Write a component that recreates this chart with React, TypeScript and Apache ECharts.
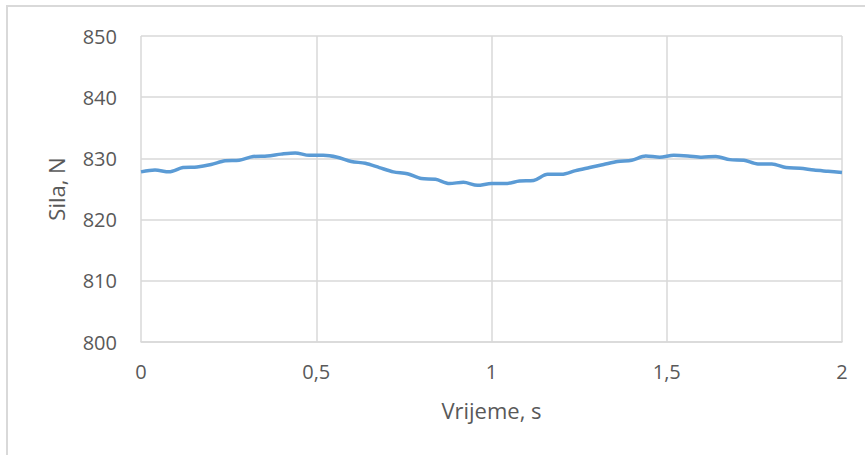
import React, { useEffect, useRef } from "react";
import * as echarts from "echarts";

const times: number[] = [
  0, 0.04, 0.08, 0.12, 0.16, 0.2, 0.24, 0.28, 0.32, 0.36, 0.4, 0.44, 0.48,
  0.52, 0.56, 0.6, 0.64, 0.68, 0.72, 0.76, 0.8, 0.84, 0.88, 0.92, 0.96, 1.0,
  1.04, 1.08, 1.12, 1.16, 1.2, 1.24, 1.28, 1.32, 1.36, 1.4, 1.44, 1.48, 1.52,
  1.56, 1.6, 1.64, 1.68, 1.72, 1.76, 1.8, 1.84, 1.88, 1.92, 1.96, 2.0,
];

const force: number[] = [
  827.8, 828.1, 827.8, 828.5, 828.6, 829.0, 829.6, 829.7, 830.3, 830.4, 830.7,
  830.9, 830.5, 830.5, 830.2, 829.5, 829.2, 828.5, 827.8, 827.5, 826.7, 826.6,
  825.9, 826.1, 825.6, 825.9, 825.9, 826.3, 826.4, 827.4, 827.4, 828.0, 828.5,
  829.0, 829.5, 829.7, 830.4, 830.2, 830.5, 830.4, 830.2, 830.3, 829.8, 829.7,
  829.1, 829.1, 828.5, 828.4, 828.1, 827.9, 827.7,
];

const xAxisTitle = "Vrijeme, s";
const yAxisTitle = "Sila, N";

const FONT = "'Open Sans', 'Noto Sans', sans-serif";
const TEXT = "#595959";
const GRID = "#d9d9d9";

export default function App() {
  const ref = useRef<HTMLDivElement>(null);

  useEffect(() => {
    if (!ref.current) return;
    const chart = echarts.init(ref.current, undefined, { renderer: "svg" });
    const data = times.map((t, i) => [t, force[i]]);
    chart.setOption({
      animation: false,
      backgroundColor: "#ffffff",
      textStyle: { fontFamily: FONT },
      grid: { left: 141, right: 23, top: 36, bottom: 113, containLabel: false },
      graphic: [
        {
          type: "rect",
          shape: { x: 7, y: 6, width: 900, height: 500 },
          style: { fill: "none", stroke: GRID, lineWidth: 2 },
          silent: true,
        },
      ],
      xAxis: {
        type: "value",
        min: 0,
        max: 2,
        interval: 0.5,
        name: xAxisTitle,
        nameLocation: "middle",
        nameGap: 57,
        nameTextStyle: { color: TEXT, fontSize: 22, fontFamily: FONT },
        axisLine: { show: true, lineStyle: { color: GRID, width: 1.5 } },
        axisTick: { show: false },
        axisLabel: {
          color: TEXT,
          fontSize: 20,
          fontFamily: FONT,
          margin: 19,
          formatter: (v: number) => String(v).replace(".", ","),
        },
        splitLine: { show: true, lineStyle: { color: GRID, width: 1.5 } },
      },
      yAxis: {
        type: "value",
        min: 800,
        max: 850,
        interval: 10,
        name: yAxisTitle,
        nameLocation: "middle",
        nameGap: 74,
        nameTextStyle: { color: TEXT, fontSize: 22, fontFamily: FONT },
        axisLine: { show: false },
        axisTick: { show: false },
        axisLabel: { color: TEXT, fontSize: 20, fontFamily: FONT, margin: 24 },
        splitLine: { show: true, lineStyle: { color: GRID, width: 1.5 } },
      },
      series: [
        {
          type: "line",
          data,
          smooth: 0.3,
          showSymbol: false,
          lineStyle: { color: "#5B9BD5", width: 3.5 },
          itemStyle: { color: "#5B9BD5" },
        },
      ],
    });
    return () => chart.dispose();
  }, []);

  return (
    <div
      ref={ref}
      style={{ position: "fixed", left: 0, top: 0, width: 865, height: 455 }}
    />
  );
}
